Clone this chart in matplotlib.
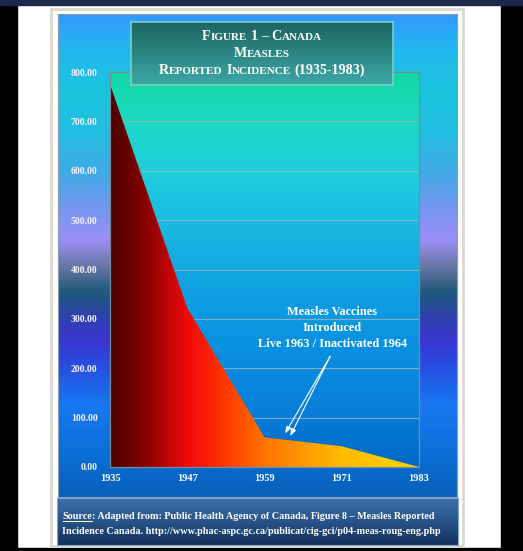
import numpy as np
import matplotlib
matplotlib.use('Agg')
import matplotlib.pyplot as plt
from matplotlib.patches import Rectangle
from matplotlib.colors import to_rgb

# ---------------- data ----------------
years = [1935, 1947, 1959, 1971, 1983]
incidence = [775, 322, 60, 42, 0]
x_ticks = [1935, 1947, 1959, 1971, 1983]
y_ticks = [0, 100, 200, 300, 400, 500, 600, 700, 800]
title_lines = ["Figure 1 – Canada", "Measles", "Reported Incidence (1935-1983)"]
note_lines = ["Measles Vaccines", "Introduced", "Live 1963 / Inactivated 1964"]
source_word = "Source"
source_line1 = ": Adapted from: Public Health Agency of Canada, Figure 8 – Measles Reported"
source_line2 = "Incidence Canada. http://www.phac-aspc.gc.ca/publicat/cig-gci/p04-meas-roug-eng.php"

W, H = 523, 551
fig = plt.figure(figsize=(W / 100, H / 100), dpi=100, facecolor='white')
FONT = dict(family='Liberation Serif', weight='bold', color='white')


def box(x0, y0, x1, y1):
    return [x0 / W, 1 - y1 / H, (x1 - x0) / W, (y1 - y0) / H]


def grad(stops, n):
    pos = [s[0] for s in stops]
    cols = np.array([to_rgb(s[1]) for s in stops])
    t = np.linspace(0, 1, n)
    return np.stack([np.interp(t, pos, cols[:, k]) for k in range(3)], axis=-1)


def rect_px(x0, y0, x1, y1, **kw):
    r = Rectangle((x0 / W, 1 - y1 / H), (x1 - x0) / W, (y1 - y0) / H,
                  transform=fig.transFigure, **kw)
    fig.add_artist(r)
    return r


# page surroundings
rect_px(0, 0, 17, H, color='black', zorder=0)
rect_px(501, 0, W, H, color='black', zorder=0)
rect_px(0, 548, W, H, color='black', zorder=0)
rect_px(0, 0, W, 5, color='#1b2a48', zorder=0)
rect_px(51, 9, 463, 546, facecolor='white', edgecolor='#dcd8cf', lw=2, zorder=0)

# panel background
panel_stops_px = [(14, '#3399ff'), (50, '#22b8ee'), (90, '#1cc4dc'), (130, '#22bee0'),
                  (175, '#44a8e6'), (210, '#7896f0'), (240, '#9c8ff6'), (265, '#6a78a8'),
                  (292, '#1f5a7a'), (318, '#3040b0'), (342, '#3a36d2'), (368, '#2650e0'),
                  (405, '#1878f0'), (455, '#0a6ed6'), (497, '#0860b8')]
ax_bg = fig.add_axes(box(58, 14, 457, 497))
ax_bg.imshow(grad([((p - 14) / 483, c) for p, c in panel_stops_px], 483)[:, None, :],
             aspect='auto', extent=[0, 1, 0, 1])
ax_bg.set_xticks([]); ax_bg.set_yticks([])
for s in ax_bg.spines.values():
    s.set_color('#8a9cb0'); s.set_linewidth(0.8)

# source box
ax_src = fig.add_axes(box(57, 498, 458, 545))
ax_src.imshow(grad([(0, '#3a72aa'), (0.5, '#285488'), (1, '#12305a')], 60)[:, None, :],
              aspect='auto', extent=[0, 1, 0, 1])
ax_src.set_xticks([]); ax_src.set_yticks([])
for s in ax_src.spines.values():
    s.set_color('#7fa6cc'); s.set_linewidth(0.8)

# ---------------- main plot ----------------
ax = fig.add_axes(box(110, 72, 419, 467))
ax.patch.set_alpha(0)
plot_stops = [(0, '#12d8a2'), (0.1, '#1cd8be'), (0.25, '#20cedc'), (0.4, '#18b8e2'),
              (0.55, '#0ea0e0'), (0.7, '#0a90e0'), (0.85, '#0880da'), (1, '#0068c8')]
ax.imshow(grad(plot_stops, 300)[:, None, :], aspect='auto',
          extent=[years[0], years[-1], 0, 800], zorder=0)

fill_stops = [(0, '#4a0000'), (0.12, '#8a0000'), (0.25, '#f00a0a'), (0.38, '#ff3a00'),
              (0.5, '#ff7400'), (0.65, '#ffa000'), (0.75, '#ffba00'), (1, '#ffd800')]
poly = ax.fill_between(years, incidence, 0, color='none', lw=0)
im = ax.imshow(grad(fill_stops, 400)[None, :, :], aspect='auto',
               extent=[years[0], years[-1], 0, 800], zorder=2)
im.set_clip_path(poly.get_paths()[0], transform=ax.transData)

ax.set_xlim(years[0], years[-1])
ax.set_ylim(0, 800)
ax.set_xticks(x_ticks)
ax.set_yticks(y_ticks)
ax.set_yticklabels([f"{v:.2f}" for v in y_ticks])
ax.tick_params(length=0)
ax.tick_params(axis='y', pad=9)
ax.tick_params(axis='x', pad=5)
for lab in ax.get_yticklabels():
    lab.set_fontproperties(dict(family='Liberation Serif', weight='bold', size=7))
    lab.set_color('#f4f4ff')
for lab in ax.get_xticklabels():
    lab.set_fontproperties(dict(family='Liberation Serif', weight='bold', size=7.5))
    lab.set_color('white')
ax.set_axisbelow(True)
ax.grid(axis='y', color='#9fb4bf', lw=0.8, alpha=0.8)
ax.grid(axis='x', visible=False)
for s in ax.spines.values():
    s.set_color('#7a8a98'); s.set_linewidth(0.9)

# annotation
for i, line in enumerate(note_lines):
    ax.text(1969.5, 314 - 32.4 * i, line, ha='center', va='center', fontsize=8.9,
            zorder=5, **FONT)
for tx, ty in [(1962.2, 68), (1963.0, 63)]:
    ax.annotate('', xy=(tx, ty), xytext=(1969.2, 224),
                arrowprops=dict(arrowstyle='-|>,head_length=0.4,head_width=0.15',
                                color='white', lw=0.8, shrinkA=0, shrinkB=0), zorder=5)

# title box
ax_t = fig.add_axes(box(131, 22, 393, 85))
ax_t.imshow(grad([(0, '#1d6461'), (1, '#3ca8a4')], 60)[:, None, :],
            aspect='auto', extent=[0, 1, 0, 1])
ax_t.set_xticks([]); ax_t.set_yticks([])
for s in ax_t.spines.values():
    s.set_color('#78d0c8'); s.set_linewidth(1.2)

renderer = fig.canvas.get_renderer()


def measure(s, size):
    t1 = fig.text(0, 0, '|' + s + '|', fontsize=size, **FONT)
    t2 = fig.text(0, 0, '||', fontsize=size, **FONT)
    w = t1.get_window_extent(renderer).width - t2.get_window_extent(renderer).width
    t1.remove(); t2.remove()
    return w


def small_caps(cx, base_py, text, big, small):
    runs = []
    for ch in text:
        kind = 's' if ch.islower() else (' ' if ch == ' ' else 'B')
        c = ch.upper()
        if runs and runs[-1][1] == kind:
            runs[-1][0] += c
        else:
            runs.append([c, kind])
    widths = [measure(s, small if k == 's' else big) for s, k in runs]
    x = cx - sum(widths) / 2
    for (s, k), w in zip(runs, widths):
        if k != ' ':
            fig.text(x / W, 1 - base_py / H, s, fontsize=small if k == 's' else big,
                     ha='left', va='baseline', zorder=10, **FONT)
        x += w


for line, base in zip(title_lines, [40.5, 57, 73.5]):
    small_caps(262, base, line, 10.2, 8)

# source text
fs = 7.3
sx, sy1, sy2 = 62.5, 516.5, 531.5
fig.text(sx / W, 1 - sy1 / H, source_word, fontsize=fs, ha='left', va='center', **FONT)
ws = measure(source_word, fs)
fig.text((sx + ws) / W, 1 - sy1 / H, source_line1, fontsize=fs, ha='left', va='center', **FONT)
fig.add_artist(plt.Line2D([sx / W, (sx + ws) / W], [1 - (sy1 + 4.8) / H] * 2,
                          transform=fig.transFigure, color='white', lw=0.7))
fig.text(sx / W, 1 - sy2 / H, source_line2, fontsize=fs, ha='left', va='center', **FONT)

fig.savefig('out.png', dpi=100, facecolor='white')
